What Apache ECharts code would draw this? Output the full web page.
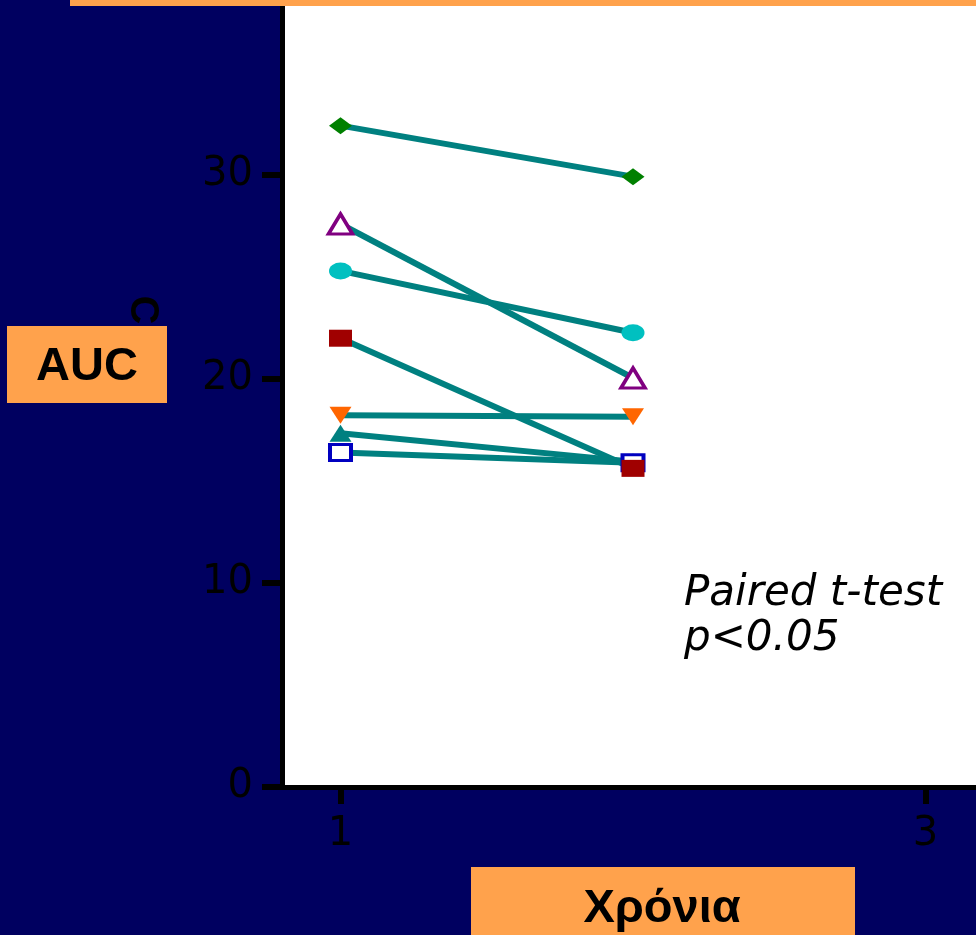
<!DOCTYPE html>
<html>
<head>
<meta charset="utf-8">
<script src="https://cdn.jsdelivr.net/npm/echarts@6/dist/echarts.min.js"></script>
<style>
html,body{margin:0;padding:0;background:#000060;}
#c{width:976px;height:935px;}
</style>
</head>
<body>
<div id="c"></div>
<script>
// Data
var timePoints = [1, 2];
var xTicks = [1, 3];
var yTicks = [0, 10, 20, 30];
var diamondGreen = [32.42, 29.92];
var triangleOpenPurple = [27.6, 20.05];
var circleCyan = [25.3, 22.27];
var squareRed = [22.0, 15.62];
var triangleDownOrange = [18.22, 18.15];
var triangleTeal = [17.34, 15.95];
var squareOpenBlue = [16.4, 15.9];

var ORANGE = '#FFA24C';
var LINE = '#008080';

function pts(vals){ return timePoints.map(function(t,i){ return [t, vals[i]]; }); }
function ser(vals, symbol, size, itemStyle, rot){
  return {
    type:'line', data: pts(vals), symbol: symbol, symbolSize: size,
    symbolRotate: rot || 0, showAllSymbol: true,
    lineStyle:{color: LINE, width: 6},
    itemStyle: itemStyle,
    emphasis:{disabled:true}, silent:true
  };
}

var chart = echarts.init(document.getElementById('c'), null, {renderer:'canvas'});
chart.setOption({
  backgroundColor:'#000060',
  animation:false,
  grid:{show:true, backgroundColor:'#ffffff', borderWidth:0, left:282, right:0, top:0, bottom:148},
  xAxis:{
    type:'value', min:0.8, max:3.1726,
    axisLine:{show:true, lineStyle:{color:'#000', width:5}},
    axisTick:{show:true, customValues: xTicks, length:17, lineStyle:{color:'#000', width:6}},
    axisLabel:{customValues: xTicks, margin:28, color:'#000', fontSize:40, fontFamily:'DejaVu Sans'},
    splitLine:{show:false}
  },
  yAxis:{
    type:'value', min:0, max:38.58,
    axisLine:{show:true, lineStyle:{color:'#000', width:5}},
    axisTick:{show:true, customValues: yTicks, length:20, lineStyle:{color:'#000', width:6}},
    axisLabel:{customValues: yTicks, margin:29, color:'#000', fontSize:40, fontFamily:'DejaVu Sans'},
    splitLine:{show:false}
  },
  series:[
    ser(diamondGreen, 'diamond', [23,17], {color:'#008000'}),
    ser(triangleOpenPurple, 'triangle', [24,20], {color:'#ffffff', borderColor:'#800080', borderWidth:3.5}),
    ser(circleCyan, 'circle', [23,17], {color:'#00C0C0'}),
    ser(triangleDownOrange, 'triangle', [22,17], {color:'#FF6600'}, 180),
    ser(triangleTeal, 'triangle', [22,17], {color:LINE}),
    ser(squareOpenBlue, 'rect', [21,16], {color:'#ffffff', borderColor:'#0000C0', borderWidth:3.5}),
    ser(squareRed, 'rect', [23,17], {color:'#A00000'})
  ],
  graphic:[
    {type:'rect', left:70, top:0, shape:{width:906, height:6}, style:{fill:ORANGE}, z:100},
    {type:'text', x:142, y:310, rotation:-Math.PI/2, z:90,
      style:{text:'C', fill:'#000', font:'bold 40px "Liberation Sans", Arial, sans-serif', textAlign:'center', textVerticalAlign:'middle'}},
    {type:'rect', left:7, top:326, shape:{width:160, height:77}, style:{fill:ORANGE}, z:100},
    {type:'text', x:87, y:367, z:101,
      style:{text:'AUC', fill:'#000', font:'bold 47px "Liberation Sans", Arial, sans-serif', textAlign:'center', textVerticalAlign:'middle'}},
    {type:'rect', left:471, top:867, shape:{width:384, height:68}, style:{fill:ORANGE}, z:100},
    {type:'text', x:662, y:909, z:101,
      style:{text:'Χρόνια', fill:'#000', font:'bold 47px "Liberation Sans", Arial, sans-serif', textAlign:'center', textVerticalAlign:'middle'}},
    {type:'text', x:684, y:617, z:101,
      style:{text:'Paired t-test\np<0.05', fill:'#000', font:'italic 42px "DejaVu Sans", sans-serif', lineHeight:45, textAlign:'left', textVerticalAlign:'middle'}}
  ]
});
</script>
</body>
</html>
